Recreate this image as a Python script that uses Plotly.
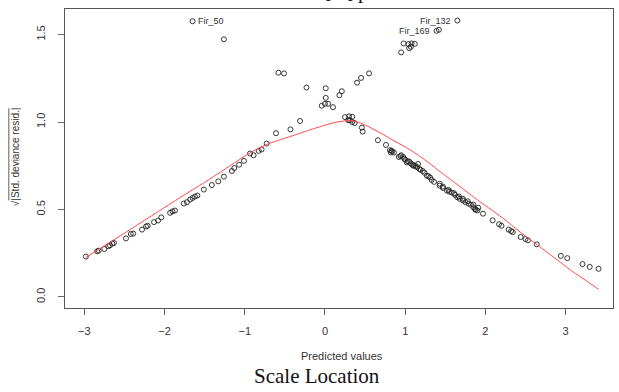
import plotly.graph_objects as go

# Predicted values (x) and sqrt(|std. deviance resid|) (y)
pred = [
    -2.98, -2.84, -2.82, -2.75, -2.70, -2.68, -2.65, -2.63, -2.48, -2.42, -2.39,
    -2.28, -2.23, -2.21, -2.13, -2.08, -2.04, -1.93, -1.90, -1.87, -1.76, -1.72,
    -1.68, -1.65, -1.62, -1.59, -1.51, -1.41, -1.33, -1.26, -1.16, -1.13, -1.07,
    -1.01, -0.934, -0.89, -0.826, -0.79, -0.726, -0.61, -0.43, -0.31,
    -0.58, -0.51, -0.23, 0.01, 0.01, -0.04, 0.00, 0.04, 0.10, 0.18, 0.21, 0.40,
    0.45, 0.55,
    -1.65, -1.26, 1.65, 1.39, 1.42, 0.98, 1.04, 1.08, 1.12, 1.07, 1.05, 0.95,
    0.25, 0.30, 0.34, 0.31, 0.34, 0.37, 0.29, 0.46, 0.47,
    0.66, 0.76, 0.81, 0.82, 0.84, 0.92, 0.95, 0.975, 0.99, 1.02, 1.05, 1.07,
    1.10, 1.13, 1.16, 1.18, 1.22, 1.27, 1.33, 1.36, 1.43, 1.43, 1.47, 1.47,
    1.52, 1.54, 1.55, 1.58, 1.61, 1.62, 1.65, 1.67, 1.68, 1.72, 1.72, 1.75,
    1.78, 1.79, 1.82, 1.85, 1.85, 1.87, 1.88, 1.90, 1.91, 1.97, 2.09, 2.17,
    2.20, 2.29, 2.32, 2.34, 2.44, 2.50, 2.53, 2.64, 2.94, 3.02, 3.21, 3.30, 3.41,
    0.83, 0.86, 0.94, 1.00, 1.03, 1.09, 1.11, 1.15, 1.19, 1.24, 1.29, 1.31,
]
sqrt_resid = [
    0.231, 0.261, 0.265, 0.274, 0.290, 0.295, 0.305, 0.309, 0.335, 0.360, 0.362,
    0.385, 0.403, 0.407, 0.428, 0.437, 0.455, 0.481, 0.489, 0.494, 0.534, 0.542,
    0.557, 0.566, 0.574, 0.580, 0.614, 0.640, 0.661, 0.688, 0.720, 0.737, 0.756,
    0.778, 0.820, 0.810, 0.835, 0.843, 0.877, 0.936, 0.958, 1.006,
    1.282, 1.278, 1.197, 1.193, 1.138, 1.093, 1.104, 1.104, 1.085, 1.153, 1.176,
    1.225, 1.252, 1.278,
    1.576, 1.473, 1.580, 1.521, 1.527, 1.449, 1.445, 1.449, 1.447, 1.430, 1.422,
    1.398,
    1.028, 1.032, 1.030, 1.011, 1.000, 0.994, 1.010, 0.968, 0.945,
    0.896, 0.869, 0.839, 0.826, 0.831, 0.800, 0.810, 0.800, 0.790, 0.769, 0.774,
    0.763, 0.750, 0.748, 0.760, 0.731, 0.720, 0.693, 0.669, 0.658, 0.647, 0.636,
    0.631, 0.623, 0.608, 0.612, 0.602, 0.597, 0.593, 0.584, 0.570, 0.574, 0.561,
    0.551, 0.561, 0.542, 0.547, 0.533, 0.527, 0.513, 0.528, 0.502, 0.498, 0.494,
    0.510, 0.476, 0.438, 0.416, 0.407, 0.385, 0.377, 0.371, 0.343, 0.331, 0.324,
    0.301, 0.235, 0.222, 0.188, 0.172, 0.161,
    0.836, 0.825, 0.805, 0.785, 0.776, 0.757, 0.752, 0.741, 0.727, 0.710, 0.690,
    0.683,
]

# lowess smoother (red line)
smooth_x = [-2.98, -2.7, -2.4, -2.1, -1.8, -1.5, -1.2, -1.0, -0.85, -0.7, -0.55,
            -0.4, -0.2, 0.0, 0.15, 0.3, 0.42, 0.55, 0.7, 0.87, 1.0, 1.18, 1.3,
            1.43, 1.6, 1.8, 1.93, 2.1, 2.26, 2.45, 2.67, 2.9, 3.09, 3.25, 3.41]
smooth_y = [0.226, 0.306, 0.394, 0.482, 0.57, 0.655, 0.745, 0.805, 0.845, 0.877,
            0.90, 0.922, 0.953, 0.982, 1.0, 1.008, 0.998, 0.972, 0.935, 0.89,
            0.858, 0.805, 0.765, 0.718, 0.66, 0.59, 0.545, 0.49, 0.435, 0.365,
            0.29, 0.21, 0.144, 0.095, 0.044]

# labelled extreme points
label_names = ["Fir_50", "Fir_132", "Fir_169"]
label_x = [-1.65, 1.65, 1.39]
label_y = [1.576, 1.580, 1.521]
label_side = ["left", "right", "right"]

x_ticks = [-3, -2, -1, 0, 1, 2, 3]
y_ticks = [0.0, 0.5, 1.0, 1.5]
y_ticktext = ["0.0", "0.5", "1.0", "1.5"]

fig = go.Figure()

fig.add_trace(go.Scatter(
    x=pred, y=sqrt_resid, mode="markers",
    marker=dict(symbol="circle-open", size=5, color="#222",
                line=dict(width=0.9, color="#222")),
    showlegend=False, hoverinfo="x+y",
))

fig.add_trace(go.Scatter(
    x=smooth_x, y=smooth_y, mode="lines",
    line=dict(color="rgb(255,70,70)", width=1, shape="spline", smoothing=0.6),
    showlegend=False, hoverinfo="skip",
))

# point labels
for name, lx, ly, side in zip(label_names, label_x, label_y, label_side):
    fig.add_annotation(
        x=lx, y=ly, text=name, showarrow=False,
        xanchor=side, yanchor="middle",
        xshift=3 if side == "left" else -4,
        font=dict(family="Liberation Sans, Arial", size=9, color="#333"),
    )

axis_font = dict(family="Liberation Sans, Arial", size=11, color="#333")

fig.update_xaxes(
    range=[-3.24, 3.59], tickvals=x_ticks, ticks="outside", ticklen=6,
    tickcolor="#666", tickfont=axis_font, ticklabelstandoff=7,
    showgrid=False, zeroline=False,
    showline=True, linecolor="#555", linewidth=1, mirror=True,
)
fig.update_yaxes(
    range=[-0.063, 1.646], tickvals=y_ticks, ticktext=y_ticktext,
    ticks="outside", ticklen=6, tickcolor="#666", tickfont=axis_font,
    tickangle=-90, ticklabelstandoff=9, showgrid=False, zeroline=False,
    showline=True, linecolor="#555", linewidth=1, mirror=True,
)

# axis titles
fig.add_annotation(
    xref="paper", yref="paper", x=0.505, y=-0.162, text="Predicted values",
    showarrow=False, xanchor="center", yanchor="middle",
    font=dict(family="Liberation Sans, Arial", size=11, color="#333"),
)
fig.add_annotation(
    xref="paper", yref="paper", x=-0.091, y=0.505,
    text="√|Std. deviance resid.|", textangle=-90,
    showarrow=False, xanchor="center", yanchor="middle",
    font=dict(family="Liberation Sans, Arial", size=10, color="#333"),
)
# bar over the square root
fig.add_shape(
    type="line", xref="paper", yref="paper",
    x0=-0.1025, x1=-0.1025, y0=0.36, y1=0.668,
    line=dict(color="#333", width=0.8),
)

# caption below and clipped caption of the previous chart at the top
fig.add_annotation(
    xref="paper", yref="paper", x=0.46, y=-0.229, text="Scale Location",
    showarrow=False, xanchor="center", yanchor="middle",
    font=dict(family="Liberation Serif, Times New Roman", size=21, color="#111"),
)
fig.add_annotation(
    xref="paper", yref="paper", x=0.462, y=1.013, text="Normal Q-Q plot",
    showarrow=False, xanchor="center", yanchor="bottom",
    font=dict(family="Liberation Serif, Times New Roman", size=21, color="#111"),
)

fig.update_layout(
    width=619, height=392,
    margin=dict(l=65, r=6, t=9, b=84),
    plot_bgcolor="white", paper_bgcolor="white",
)

fig.write_html(
    "out.html",
    config={"displayModeBar": False},
    post_script="document.body.style.margin='0px';",
)
